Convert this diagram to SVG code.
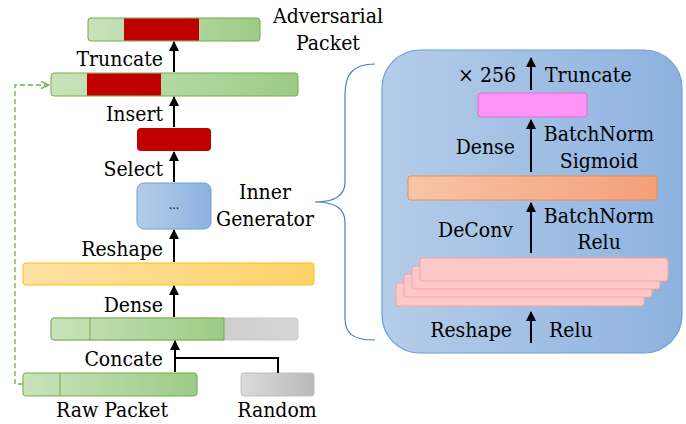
<svg xmlns="http://www.w3.org/2000/svg" width="686" height="424" viewBox="0 0 686 424">
<defs>
<linearGradient id="gGreen" x1="0" y1="0" x2="1" y2="0"><stop offset="0" stop-color="#c9e3bb"/><stop offset="1" stop-color="#9dcb86"/></linearGradient>
<linearGradient id="gGray" x1="0" y1="0" x2="1" y2="0"><stop offset="0" stop-color="#dcdcdc"/><stop offset="1" stop-color="#b8b8b8"/></linearGradient>
<linearGradient id="gGray2" x1="0" y1="0" x2="1" y2="0"><stop offset="0" stop-color="#bdbdbd"/><stop offset="1" stop-color="#d6d6d6"/></linearGradient>
<linearGradient id="gYellow" x1="0" y1="0" x2="1" y2="0"><stop offset="0" stop-color="#ffe1a3"/><stop offset="1" stop-color="#ffd26a"/></linearGradient>
<linearGradient id="gBlue" x1="0" y1="0" x2="1" y2="0"><stop offset="0" stop-color="#b5cde9"/><stop offset="1" stop-color="#8db2df"/></linearGradient>
<linearGradient id="gOrange" x1="0" y1="0" x2="1" y2="0"><stop offset="0" stop-color="#f8c4a8"/><stop offset="1" stop-color="#f4a078"/></linearGradient>
<marker id="ah" viewBox="0 0 10 10" refX="9" refY="5" markerWidth="5" markerHeight="5" markerUnits="strokeWidth" orient="auto"><path d="M0,0 L10,5 L0,10 z" fill="#000"/></marker>
<marker id="ahg" viewBox="0 0 10 10" refX="9" refY="5" markerWidth="9" markerHeight="9" markerUnits="userSpaceOnUse" orient="auto"><path d="M0,1 L9,5 L0,9" fill="none" stroke="#70ad47" stroke-width="1.4"/></marker>
</defs>
<style>
text{font-family:"DejaVu Serif Condensed","DejaVu Serif","Liberation Serif",serif;font-stretch:condensed;font-size:21px;fill:#000}
.r{text-anchor:end}.m{text-anchor:middle}
.bar{stroke:#70ad47;stroke-width:1}
.red{fill:#c00000;stroke:none}
.arr{stroke:#000;stroke-width:2;fill:none;marker-end:url(#ah)}
.ln{stroke:#000;stroke-width:2;fill:none}
.pk{fill:#ffc8c8;stroke:#f4a3a3;stroke-width:1}
</style>

<g id="adversarial-packet">
<rect x="88" y="18" width="172" height="23" rx="3" fill="url(#gGreen)" class="bar"/>
<rect x="124" y="18.5" width="75" height="22" class="red"/>
<text x="328" y="23" class="m">Adversarial</text>
<text x="328" y="50" class="m">Packet</text>
</g>
<g id="inserted-packet">
<rect x="51" y="73" width="247" height="23" rx="3" fill="url(#gGreen)" class="bar"/>
<rect x="87" y="73.5" width="74" height="22" class="red"/>
</g>
<g id="selected">
<rect x="137" y="128" width="74" height="23" rx="4" fill="#c00000"/>
</g>
<g id="inner-generator">
<rect x="137" y="183" width="74" height="46" rx="7" fill="url(#gBlue)" stroke="#6a9fd8" stroke-width="1"/>
<text x="174" y="209" class="m" style="font-size:12px">...</text>
<text x="265" y="199" class="m">Inner</text>
<text x="265" y="226" class="m">Generator</text>
</g>
<g id="reshaped">
<rect x="23" y="263" width="291" height="22" rx="3" fill="url(#gYellow)" stroke="#ffc000" stroke-width="1"/>
</g>
<g id="concatenated">
<rect x="51" y="318" width="247" height="22" rx="3" fill="url(#gGray2)" stroke="#c8c8c8" stroke-width="1"/>
<path d="M54,318 H224 V340 H54 A3,3 0 0 1 51,337 V321 A3,3 0 0 1 54,318 z" fill="url(#gGreen)" stroke="#70ad47" stroke-width="1"/>
<line x1="90" y1="318" x2="90" y2="340" stroke="#70ad47" stroke-width="1"/>
</g>
<g id="raw-packet">
<rect x="23" y="373" width="174" height="23" rx="3" fill="url(#gGreen)" class="bar"/>
<line x1="60" y1="373" x2="60" y2="396" stroke="#70ad47" stroke-width="1"/>
<text x="112" y="417" class="m">Raw Packet</text>
</g>
<g id="random">
<rect x="241" y="373" width="73" height="23" rx="3" fill="url(#gGray)" stroke="#bfbfbf" stroke-width="1"/>
<text x="277" y="417" class="m">Random</text>
</g>

<g id="connectors">
<line x1="174" y1="72" x2="174" y2="42" class="arr"/>
<line x1="174" y1="127" x2="174" y2="97" class="arr"/>
<line x1="174" y1="182" x2="174" y2="152" class="arr"/>
<line x1="174" y1="262" x2="174" y2="230" class="arr"/>
<line x1="174" y1="317" x2="174" y2="286" class="arr"/>
<line x1="175" y1="372" x2="175" y2="341" class="arr"/>
<polyline points="175,358 278,358 278,373" class="ln"/>
<polyline points="23,384 15,384 15,85 49,85" fill="none" stroke="#70ad47" stroke-width="1.3" stroke-dasharray="5,3" marker-end="url(#ahg)"/>
<path d="M375,64 C352,64 345,75 345,95 L345,182 C345,196 335,202 315,202 C335,202 345,208 345,222 L345,318 C345,333 352,340 375,340" fill="none" stroke="#4a7cc9" stroke-width="1.2"/>
<text x="163" y="66" class="r">Truncate</text>
<text x="163" y="121" class="r">Insert</text>
<text x="163" y="176" class="r">Select</text>
<text x="163" y="256" class="r">Reshape</text>
<text x="163" y="312" class="r">Dense</text>
<text x="163" y="366" class="r">Concate</text>
</g>

<g id="inner-panel">
<rect x="382" y="50" width="300" height="303" rx="38" fill="url(#gBlue)" stroke="#6a9fd8" stroke-width="1.2"/>
</g>
<g id="pink-layer">
<rect x="478" y="93" width="109" height="24" rx="3" fill="#ff94f6" stroke="#e26ad8" stroke-width="1"/>
</g>
<g id="orange-layer">
<rect x="408" y="176" width="249" height="24" rx="3" fill="url(#gOrange)" stroke="#ed8a50" stroke-width="1"/>
</g>
<g id="stacked-layers">
<rect x="396" y="283" width="248" height="23" rx="3" class="pk"/>
<rect x="404" y="274" width="248" height="23" rx="3" class="pk"/>
<rect x="412" y="266" width="248" height="23" rx="3" class="pk"/>
<rect x="420" y="258" width="248" height="23" rx="3" class="pk"/>
</g>
<g id="inner-connectors">
<line x1="531" y1="90" x2="531" y2="58" class="arr"/>
<line x1="531" y1="172" x2="531" y2="120" class="arr"/>
<line x1="531" y1="253" x2="531" y2="203" class="arr"/>
<line x1="531" y1="343" x2="531" y2="312" class="arr"/>
<text x="487" y="82" class="m">× 256</text>
<text x="545" y="82">Truncate</text>
<text x="515" y="154" class="r">Dense</text>
<text x="599" y="141" class="m">BatchNorm</text>
<text x="599" y="168" class="m">Sigmoid</text>
<text x="513" y="237" class="r">DeConv</text>
<text x="599" y="223" class="m">BatchNorm</text>
<text x="599" y="249" class="m">Relu</text>
<text x="512" y="337" class="r">Reshape</text>
<text x="549" y="337">Relu</text>
</g>
</svg>
